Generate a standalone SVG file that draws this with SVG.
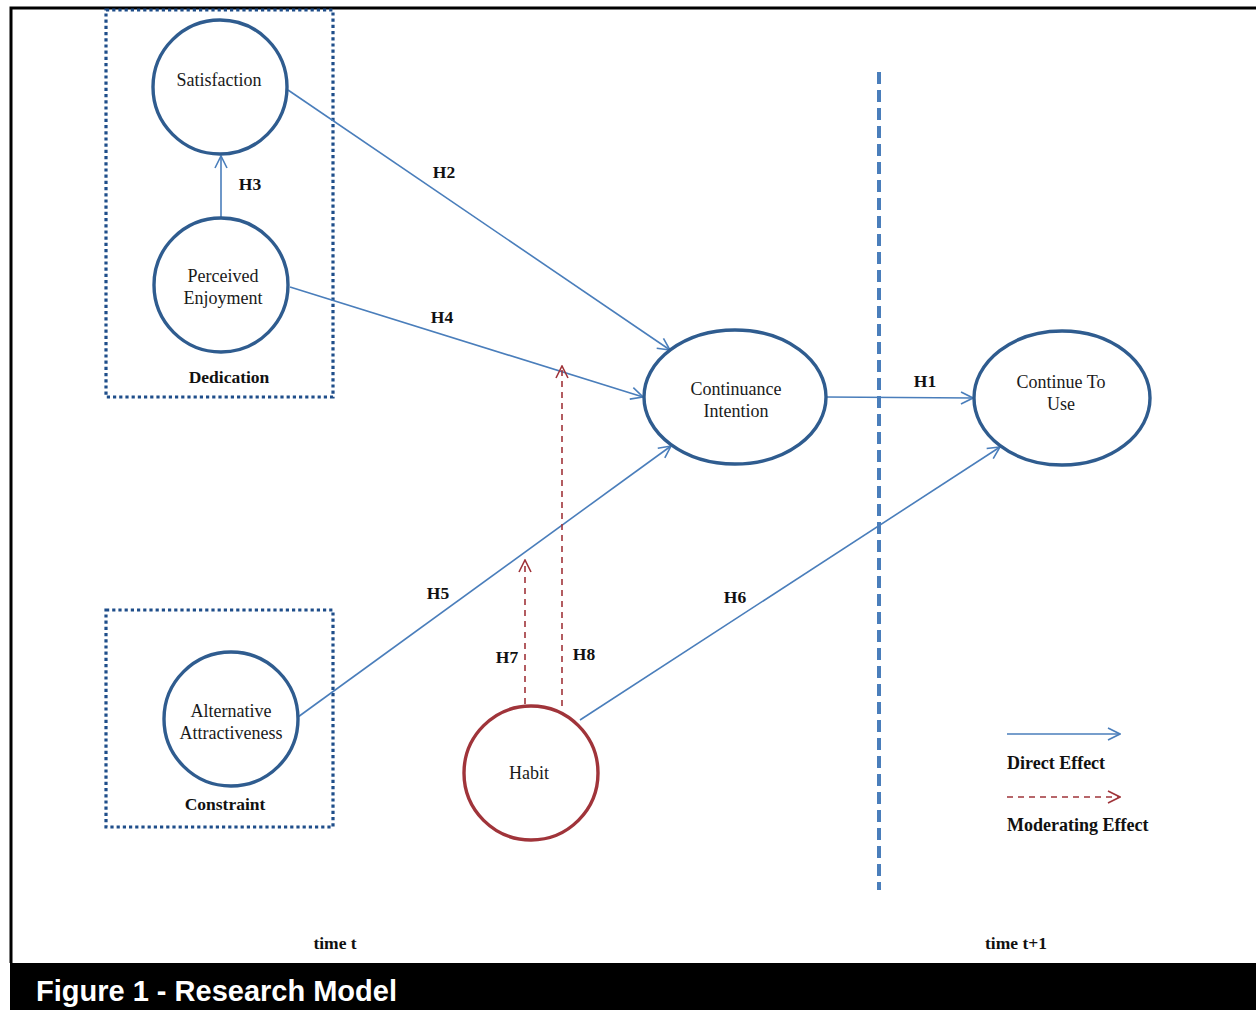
<svg xmlns="http://www.w3.org/2000/svg" width="1256" height="1010" viewBox="0 0 1256 1010">
<style>
.node{fill:#fff;stroke:#2F5C8F;stroke-width:3.4}
.habit{fill:#fff;stroke:#A0343A;stroke-width:3.4}
.box{fill:none;stroke:#1F4E8A;stroke-width:3.2;stroke-dasharray:3.2 3}
.t{font-family:"Liberation Serif","Times New Roman",serif;font-size:18px;fill:#1a1a1a;text-anchor:middle}
.b{font-family:"Liberation Serif","Times New Roman",serif;font-size:17.5px;font-weight:bold;fill:#111;text-anchor:middle}
.bl{font-family:"Liberation Serif","Times New Roman",serif;font-size:18px;font-weight:bold;fill:#111}
.d{fill:none;stroke:#4A7EBB;stroke-width:1.6;marker-end:url(#ab)}
.m{fill:none;stroke:#A0343A;stroke-width:1.6;stroke-dasharray:6 5;marker-end:url(#ar)}
</style>
<defs>
<marker id="ab" viewBox="0 0 14 14" refX="13" refY="7" markerWidth="14" markerHeight="14" markerUnits="userSpaceOnUse" orient="auto">
<path d="M1,1 L13,7 L1,13" fill="none" stroke="#4A7EBB" stroke-width="1.6"/>
</marker>
<marker id="ar" viewBox="0 0 14 14" refX="13" refY="7" markerWidth="14" markerHeight="14" markerUnits="userSpaceOnUse" orient="auto">
<path d="M1,1 L13,7 L1,13" fill="none" stroke="#A0343A" stroke-width="1.6"/>
</marker>
</defs>
<rect x="0" y="0" width="1256" height="1010" fill="#fff"/>
<path d="M11,963 L11,8 L1256,8" fill="none" stroke="#000" stroke-width="3"/>
<rect x="10" y="963" width="1246" height="47" fill="#000"/>
<text x="36" y="1001" font-family="'Liberation Sans',Arial,sans-serif" font-size="29" font-weight="bold" fill="#fff">Figure 1 - Research Model</text>

<line x1="879" y1="72" x2="879" y2="890" stroke="#4A7EBB" stroke-width="4" stroke-dasharray="12 6"/>

<g id="dedication">
<rect class="box" x="106" y="10" width="227" height="387"/>
<text class="b" x="229" y="383" font-size="18">Dedication</text>
</g>
<g id="constraint">
<rect class="box" x="106" y="610" width="227" height="217"/>
<text class="b" x="225" y="810" font-size="18">Constraint</text>
</g>

<g id="connectors">
<line class="d" x1="221" y1="217" x2="221" y2="156"/>
<line class="d" x1="288" y1="90" x2="670" y2="350"/>
<line class="d" x1="290" y1="287" x2="643" y2="397"/>
<line class="d" x1="298" y1="717" x2="671" y2="446"/>
<line class="d" x1="826" y1="397" x2="973" y2="398"/>
<line class="d" x1="580" y1="720" x2="1000" y2="447"/>
<line class="m" x1="525" y1="704" x2="525" y2="560"/>
<line class="m" x1="562" y1="706" x2="562" y2="366"/>
<text class="b" x="250" y="190">H3</text>
<text class="b" x="444" y="178">H2</text>
<text class="b" x="442" y="323">H4</text>
<text class="b" x="438" y="599">H5</text>
<text class="b" x="925" y="387">H1</text>
<text class="b" x="735" y="603">H6</text>
<text class="b" x="507" y="663">H7</text>
<text class="b" x="584" y="660">H8</text>
</g>

<g id="satisfaction">
<circle class="node" cx="220" cy="87" r="67"/>
<text class="t" x="219" y="86">Satisfaction</text>
</g>
<g id="perceived-enjoyment">
<circle class="node" cx="221" cy="285" r="67"/>
<text class="t" x="223" y="282">Perceived</text>
<text class="t" x="223" y="304">Enjoyment</text>
</g>
<g id="continuance-intention">
<ellipse class="node" cx="735" cy="397" rx="91" ry="67"/>
<text class="t" x="736" y="395">Continuance</text>
<text class="t" x="736" y="417">Intention</text>
</g>
<g id="continue-to-use">
<ellipse class="node" cx="1062" cy="398" rx="88" ry="67"/>
<text class="t" x="1061" y="388">Continue To</text>
<text class="t" x="1061" y="410">Use</text>
</g>
<g id="alternative-attractiveness">
<circle class="node" cx="231" cy="719" r="67"/>
<text class="t" x="231" y="717">Alternative</text>
<text class="t" x="231" y="739">Attractiveness</text>
</g>
<g id="habit">
<circle class="habit" cx="531" cy="773" r="67"/>
<text class="t" x="529" y="779">Habit</text>
</g>

<g id="legend">
<line class="d" x1="1007" y1="734" x2="1120" y2="734"/>
<text class="bl" x="1007" y="769">Direct Effect</text>
<line class="m" x1="1007" y1="797" x2="1120" y2="797"/>
<text class="bl" x="1007" y="831">Moderating Effect</text>
</g>

<text class="b" x="335" y="949">time t</text>
<text class="b" x="1016" y="949">time t+1</text>
</svg>
